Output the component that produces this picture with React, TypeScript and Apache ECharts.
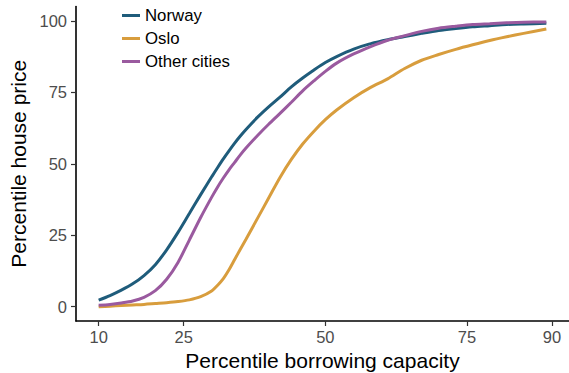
import React, { useEffect, useRef } from "react";
import * as echarts from "echarts";

// Percentile of borrowing capacity (x)
const borrowingPercentile = [
  10, 12, 14, 16, 18, 20, 22, 24, 26, 28, 30, 31, 32, 33, 34, 35, 36, 38, 40,
  42, 44, 46, 48, 50, 52, 55, 58, 61, 64, 67, 70, 73, 76, 79, 82, 85, 89,
];

// Percentile house price reachable at each borrowing percentile
const norway = [
  2.3, 3.9, 5.8, 8.0, 10.9, 14.7, 19.9, 26.0, 32.6, 39.2, 45.6, 48.7, 51.7,
  54.5, 57.2, 59.7, 62.0, 66.2, 69.9, 73.3, 76.9, 80.0, 82.8, 85.4, 87.5, 90.1,
  92.0, 93.4, 94.5, 95.6, 96.6, 97.3, 97.9, 98.3, 98.7, 98.9, 99.1,
];
const oslo = [
  0.0, 0.2, 0.4, 0.6, 0.8, 1.1, 1.4, 1.8, 2.4, 3.5, 5.6, 7.5, 9.8, 12.9, 16.5,
  20.1, 23.6, 30.8, 38.0, 45.2, 51.5, 56.9, 61.4, 65.4, 68.8, 73.1, 76.7, 79.7,
  83.3, 86.2, 88.2, 90.0, 91.6, 93.1, 94.4, 95.6, 97.1,
];
const otherCities = [
  0.5, 0.8, 1.3, 2.0, 3.3, 5.6, 9.6, 15.5, 23.3, 31.2, 38.5, 41.9, 45.0, 47.9,
  50.5, 53.1, 55.5, 59.8, 63.8, 67.6, 71.5, 75.5, 79.0, 82.3, 85.2, 88.4, 91.0,
  93.2, 94.8, 96.3, 97.4, 98.1, 98.7, 99.0, 99.3, 99.5, 99.6,
];

const xTicks = [10, 25, 50, 75, 90];
const yTicks = [0, 25, 50, 75, 100];

const seriesDefs = [
  { name: "Norway", values: norway, color: "#1f5c7b" },
  { name: "Oslo", values: oslo, color: "#d89d3d" },
  { name: "Other cities", values: otherCities, color: "#9a5a9f" },
];

const FONT = "Liberation Sans, Arial, Helvetica, sans-serif";

export default function App() {
  const ref = useRef<HTMLDivElement>(null);

  useEffect(() => {
    if (!ref.current) return;
    const chart = echarts.init(ref.current, undefined, { renderer: "svg" });

    chart.setOption({
      animation: false,
      backgroundColor: "#ffffff",
      textStyle: { fontFamily: FONT },
      grid: {
        left: 76,
        right: 0,
        top: 6.5,
        bottom: 52,
        containLabel: false,
        outerBoundsMode: "none",
      },
      legend: {
        orient: "vertical",
        left: 122,
        top: 7,
        padding: 0,
        itemWidth: 18,
        itemHeight: 3,
        itemGap: 6,
        icon: "rect",
        textStyle: { fontSize: 16.8, color: "#000000", fontFamily: FONT },
        data: seriesDefs.map((s) => s.name),
      },
      xAxis: {
        type: "value",
        min: 6,
        max: 93,
        name: "Percentile borrowing capacity",
        nameLocation: "middle",
        nameGap: 26,
        nameTextStyle: { fontSize: 21, color: "#000000", fontFamily: FONT, verticalAlign: "top" },
        splitLine: { show: false },
        axisLine: { show: true, onZero: false, lineStyle: { color: "#000000", width: 1.6 } },
        axisTick: {
          show: true,
          length: 5,
          customValues: xTicks,
          lineStyle: { color: "#333333", width: 1.2 },
        },
        axisLabel: {
          margin: 7,
          fontSize: 16.5,
          color: "#4d4d4d",
          fontFamily: FONT,
          customValues: xTicks,
        },
      },
      yAxis: {
        type: "value",
        min: -5,
        max: 105,
        name: "Percentile house price",
        nameLocation: "middle",
        nameGap: 42,
        nameRotate: 90,
        nameTextStyle: { fontSize: 21, color: "#000000", fontFamily: FONT },
        splitLine: { show: false },
        axisLine: { show: true, onZero: false, lineStyle: { color: "#000000", width: 1.6 } },
        axisTick: {
          show: true,
          length: 5,
          customValues: yTicks,
          lineStyle: { color: "#333333", width: 1.2 },
        },
        axisLabel: {
          margin: 9,
          fontSize: 16.5,
          color: "#4d4d4d",
          fontFamily: FONT,
          customValues: yTicks,
        },
      },
      series: seriesDefs.map((s) => ({
        name: s.name,
        type: "line",
        smooth: 0.3,
        showSymbol: false,
        symbol: "none",
        color: s.color,
        lineStyle: { color: s.color, width: 3 },
        data: borrowingPercentile.map((x, i) => [x, s.values[i]]),
      })),
    });

    return () => chart.dispose();
  }, []);

  return (
    <div
      ref={ref}
      style={{ width: 569, height: 373, position: "fixed", left: 0, top: 0 }}
    />
  );
}
